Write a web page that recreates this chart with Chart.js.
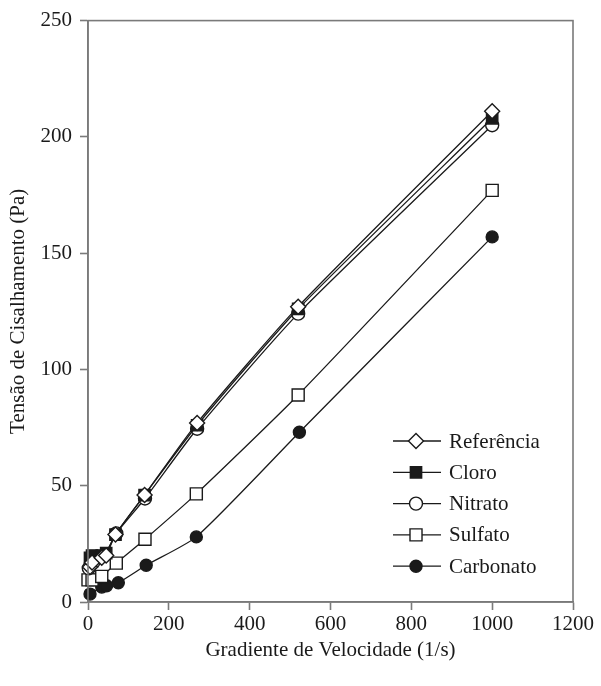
<!DOCTYPE html>
<html>
<head>
<meta charset="utf-8">
<title>Tensão de Cisalhamento</title>
<script src="https://cdn.jsdelivr.net/npm/chart.js@4.4.1/dist/chart.umd.min.js"></script>
<style>
  body { margin: 0; background: #fff; }
  #wrap { width: 601px; height: 686px; }
</style>
</head>
<body>
<div id="wrap"><canvas id="myChart" width="601" height="686"></canvas></div>
<script>
// values (x = 1/s, y = Pa)
var seriesNames = ['Referência', 'Cloro', 'Nitrato', 'Sulfato', 'Carbonato'];

var refX = [5, 10, 34, 45, 68, 140, 270, 520, 1000];
var refY = [15, 17, 19, 20, 29, 46, 77, 127, 211];

var cloroX = [5, 10, 34, 45, 68, 140, 270, 520, 1000];
var cloroY = [19, 20, 20, 21, 29, 46, 76, 126, 208];

var nitratoX = [2, 13, 40, 70, 141, 270, 520, 1000];
var nitratoY = [14.5, 17, 20, 29.5, 44.5, 74.5, 124, 205];

var sulfatoX = [0, 10, 34, 70, 141, 268, 520, 1000];
var sulfatoY = [9.5, 9.5, 11, 16.7, 27, 46.5, 89, 177];

var carbonatoX = [5, 34, 46, 75, 144, 268, 523, 1000];
var carbonatoY = [3.4, 6.4, 7, 8.3, 15.8, 28, 73, 157];

var xTicks = [0, 200, 400, 600, 800, 1000, 1200];
var yTicks = [0, 50, 100, 150, 200, 250];

function pts(xs, ys) {
    return xs.map(function (x, i) { return { x: x, y: ys[i] }; });
}

var serif = 'Liberation Serif, DejaVu Serif, serif';
var fontSize = 21;
var ink = '#1a1a1a';
var axisGray = '#7a7a7a';

function makeSet(label, data, style, fill, radius) {
    return {
        label: label,
        data: data,
        borderColor: ink,
        borderWidth: 1.3,
        pointStyle: style,
        pointRadius: radius,
        pointHoverRadius: radius,
        pointBackgroundColor: fill,
        pointBorderColor: ink,
        pointBorderWidth: 1.4,
        tension: 0.2,
        clip: false
    };
}

var sets = [
    makeSet(seriesNames[0], pts(refX, refY), 'rectRot', '#fff', 7.5),
    makeSet(seriesNames[1], pts(cloroX, cloroY), 'rect', ink, 8),
    makeSet(seriesNames[2], pts(nitratoX, nitratoY), 'circle', '#fff', 6.5),
    makeSet(seriesNames[3], pts(sulfatoX, sulfatoY), 'rect', '#fff', 8.5),
    makeSet(seriesNames[4], pts(carbonatoX, carbonatoY), 'circle', ink, 6)
];

// box round the plot
var framePlugin = {
    id: 'frame',
    afterDraw: function (chart) {
        var a = chart.chartArea, c = chart.ctx;
        c.save();
        c.strokeStyle = axisGray;
        c.lineWidth = 1.6;
        c.strokeRect(a.left, a.top, a.right - a.left, a.bottom - a.top);
        c.restore();
    }
};

// legend inside the plot, lower right
var legendPlugin = {
    id: 'innerLegend',
    afterDatasetsDraw: function (chart) {
        var c = chart.ctx;
        var x0 = 393, x1 = 441, mx = 416, tx = 449;
        var y = 441, dy = 31.3;
        c.save();
        chart.data.datasets.forEach(function (ds, i) {
            var yy = y + i * dy;
            c.strokeStyle = ink;
            c.lineWidth = 1.3;
            c.beginPath();
            c.moveTo(x0, yy);
            c.lineTo(x1, yy);
            c.stroke();
            c.fillStyle = ds.pointBackgroundColor;
            c.strokeStyle = ink;
            c.lineWidth = 1.4;
            Chart.helpers.drawPoint(c, { pointStyle: ds.pointStyle, radius: ds.pointRadius, rotation: 0, borderWidth: 1.4 }, mx, yy);
            c.fillStyle = ink;
            c.font = fontSize + 'px ' + serif;
            c.textBaseline = 'middle';
            c.textAlign = 'left';
            c.fillText(ds.label, tx, yy + 1);
        });
        c.restore();
    }
};

var ctx = document.getElementById('myChart').getContext('2d');
var myChart = new Chart(ctx, {
    type: 'line',
    data: { datasets: sets },
    options: {
        responsive: false,
        animation: false,
        layout: { padding: { top: 14, right: 28, bottom: 0, left: 0 } },
        scales: {
            x: {
                type: 'linear',
                min: 0,
                max: 1200,
                afterBuildTicks: function (s) { s.ticks = xTicks.map(function (v) { return { value: v }; }); },
                afterFit: function (s) { s.height = 84; },
                grid: { drawOnChartArea: false, tickLength: 8, tickColor: axisGray, tickWidth: 1.6 },
                border: { color: axisGray, width: 1.6 },
                ticks: {
                    color: ink, padding: 2, maxRotation: 0,
                    font: { family: serif, size: fontSize },
                    callback: function (v) { return String(v); }
                },
                title: {
                    display: true,
                    text: 'Gradiente de Velocidade (1/s)',
                    color: ink,
                    font: { family: serif, size: fontSize },
                    padding: { top: 4, bottom: 23 }
                }
            },
            y: {
                min: 0,
                max: 250,
                afterBuildTicks: function (s) { s.ticks = yTicks.map(function (v) { return { value: v }; }); },
                afterFit: function (s) { s.width = 88; },
                grid: { drawOnChartArea: false, tickLength: 8, tickColor: axisGray, tickWidth: 1.6 },
                border: { color: axisGray, width: 1.6 },
                ticks: {
                    color: ink, padding: 8,
                    font: { family: serif, size: fontSize },
                    callback: function (v) { return String(v); }
                },
                title: {
                    display: true,
                    text: 'Tensão de Cisalhamento (Pa)',
                    color: ink,
                    font: { family: serif, size: fontSize },
                    padding: { top: 6, bottom: 6 }
                }
            }
        },
        plugins: {
            legend: { display: false },
            tooltip: { enabled: false }
        }
    },
    plugins: [framePlugin, legendPlugin]
});
</script>
</body>
</html>
